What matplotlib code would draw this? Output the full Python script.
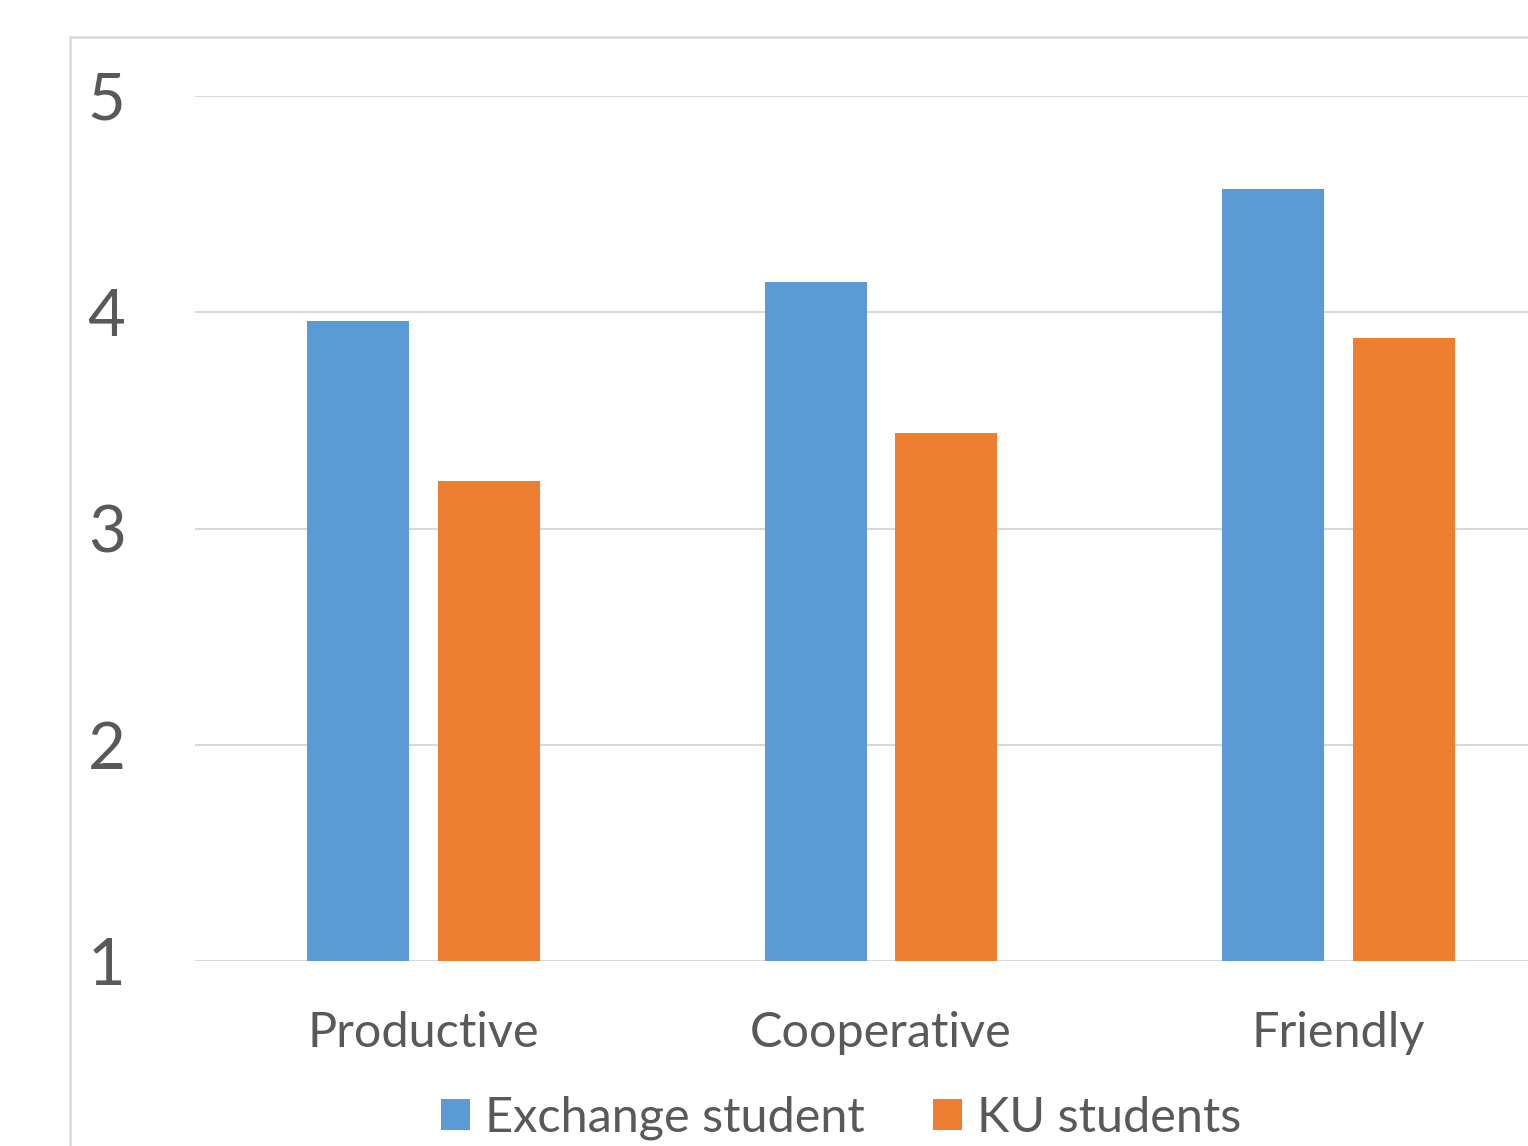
import matplotlib
matplotlib.use("Agg")
import matplotlib.pyplot as plt
from matplotlib.patches import Rectangle, Patch
import numpy as np

categories = ["Productive", "Cooperative", "Friendly"]
exchange_student = [3.96, 4.14, 4.57]
ku_students = [3.22, 3.44, 3.88]
series_names = ["Exchange student", "KU students"]
y_ticks = [1, 2, 3, 4, 5]

BLUE = "#5B9BD5"
ORANGE = "#ED7D31"
TEXT = "#595959"
GRID = "#D9D9D9"
FONT = "Lato"

W, H = 1528, 1146
fig = plt.figure(figsize=(W / 100, H / 100), dpi=100)

# chart border (cropped at right and bottom)
fig.patches.append(Rectangle((70 / W, -0.1), 2.0, 1 - 37 / H + 0.1,
                             transform=fig.transFigure, fill=False,
                             edgecolor=GRID, linewidth=1.8, zorder=0))

ax = fig.add_axes([195 / W, (H - 961) / H, 1372 / W, 865 / H])
x = np.arange(len(categories))
bw = 0.223
off = 0.143
ax.bar(x - off, exchange_student, bw, bottom=0, color=BLUE, zorder=3)
ax.bar(x + off, ku_students, bw, bottom=0, color=ORANGE, zorder=3)

ax.set_xlim(-0.5, 2.5)
ax.set_ylim(1, 5)
ax.set_yticks(y_ticks)
ax.set_yticklabels([str(t) for t in y_ticks], fontsize=47, color=TEXT, family=FONT)
ax.set_xticks(x)
ax.set_xticklabels(categories, fontsize=35, color=TEXT, family=FONT)
ax.tick_params(axis="y", length=0, pad=50)
ax.tick_params(axis="x", length=0, pad=36)
ax.grid(axis="y", color=GRID, linewidth=1.5, zorder=0)
ax.set_axisbelow(True)
for s in ax.spines.values():
    s.set_visible(False)

handles = [Patch(facecolor=BLUE, edgecolor="none"), Patch(facecolor=ORANGE, edgecolor="none")]
fig.legend(handles, series_names, loc="center", bbox_to_anchor=(841 / W, 1 - 1118 / H),
           ncol=2, frameon=False, prop={"family": FONT, "size": 35},
           labelcolor=TEXT, handlelength=0.6, handleheight=0.6,
           handletextpad=0.3, columnspacing=1.4, borderpad=0, borderaxespad=0)

fig.savefig("out.png", dpi=100)
